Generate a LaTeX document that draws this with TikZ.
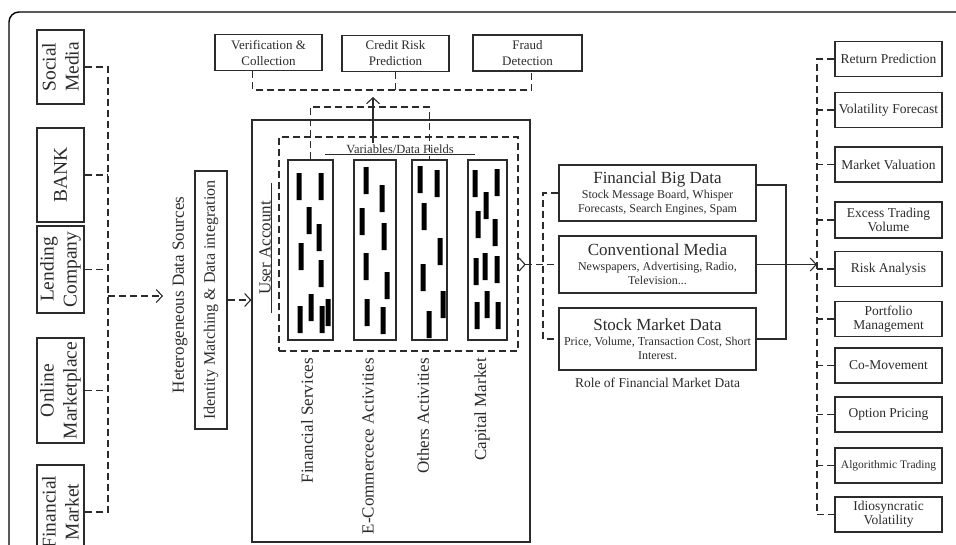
\documentclass[tikz,border=0pt]{standalone}
\usepackage{fontspec}
\setmainfont{Liberation Serif}
\usetikzlibrary{arrows.meta}
\definecolor{ink}{HTML}{2B2B2B}
\tikzset{
    src-box/.style = {draw=ink, line width=1.2pt, rotate=90, inner sep=1pt, minimum height=47pt, align=center, font=\fontsize{19.5}{23}\selectfont},
    top-box/.style = {draw=ink, line width=1.2pt, minimum width=107pt, minimum height=36pt, inner sep=1pt, align=center, font=\fontsize{13}{16}\selectfont},
    out-box/.style = {draw=ink, line width=1.2pt, minimum width=107pt, minimum height=35pt, inner sep=1pt, align=center, font=\fontsize{13.5}{14}\selectfont},
    data-box/.style = {draw=ink, line width=1.2pt, minimum width=197pt, inner sep=1pt, align=center, font=\fontsize{12}{14}\selectfont},
    col-box/.style = {draw=ink, line width=1.1pt, minimum height=180pt},
    side-label/.style = {rotate=90, inner sep=1pt, font=\fontsize{17}{19}\selectfont},
    dash-line/.style = {draw=ink, line width=1.1pt, dash pattern=on 7pt off 4pt},
    solid-line/.style = {draw=ink, line width=1.1pt},
    open-tip/.style = {-{Straight Barb[length=6pt,width=13pt]}},
}

\begin{document}
\begin{tikzpicture}[x=1pt, y=-1pt, ink]
\useasboundingbox (0,0) rectangle (956,544);
\clip (0,0) rectangle (956,544);
\draw[black, line width=1.4pt, rounded corners=10pt] (9,12) rectangle (990,590);

% data sources
\node[src-box, minimum width=74pt] (social) at (60.5,67) {Social\\Media};
\node[src-box, minimum width=94pt] (bank) at (60.5,175) {BANK};
\node[src-box, minimum width=87pt] (lending) at (60.5,269.5) {Lending\\Company};
\node[src-box, minimum width=105pt] (online) at (60.5,390.5) {Online\\Marketplace};
\node[src-box, minimum width=94pt] (finmkt) at (60.5,512) {Financial\\Market};

\coordinate (src-bus) at (108,296);
\coordinate (hetero-in) at (163,296);
\draw[dash-line] (social.south) -| (src-bus |- finmkt.south) -- (finmkt.south);
\draw[dash-line] (bank.south) -- (bank.south -| src-bus)
    (lending.south) -- (lending.south -| src-bus)
    (online.south) -- (online.south -| src-bus);
\draw[dash-line, open-tip] (src-bus) -- (hetero-in);

\node[side-label] (hetero) at (180,295) {Heterogeneous Data Sources};
\node[draw=ink, line width=1.2pt, rotate=90, minimum width=258pt, minimum height=32pt, inner sep=1pt, font=\fontsize{16}{18}\selectfont] (ident) at (211,300) {Identity Matching \& Data integration};

% user account
\node[draw=ink, line width=1.2pt, minimum width=278pt, minimum height=422pt] (account) at (391,331) {};
\draw[dash-line, open-tip] (ident.south) -- (account.west |- ident.south);
\node[dash-line, minimum width=239pt, minimum height=214pt] (fields) at (398.5,244) {};

\node[side-label, minimum width=130pt] (user) at (265,248) {User Account};
\draw[line width=0.9pt] (user.south west) -- (user.south east);
\node[inner sep=1pt, minimum width=149pt, font=\fontsize{12.5}{14}\selectfont] (vars) at (400,149) {Variables/Data Fields};
\draw[line width=0.9pt] (vars.south west) -- (vars.south east);

\node[col-box, minimum width=45pt] (fin-col) at (310.5,250) {};
\node[col-box, minimum width=42pt] (ecom-col) at (375,250) {};
\node[col-box, minimum width=35pt] (other-col) at (429.5,250) {};
\node[col-box, minimum width=39pt] (cap-col) at (487.5,250) {};

% data field bars
\fill[black] (296.5,173) rectangle ++(5,27) (318.5,173) rectangle ++(5,27)
    (306.5,207) rectangle ++(5,27) (316.5,224) rectangle ++(5,27)
    (298.5,243) rectangle ++(5,27) (318.5,260) rectangle ++(5,27)
    (308.5,294) rectangle ++(5,27) (297.5,306) rectangle ++(5,27)
    (319.5,306) rectangle ++(5,27) (325.5,299) rectangle ++(5,27);
\fill[black] (363.5,167) rectangle ++(5,27) (379.5,185) rectangle ++(5,27)
    (359.5,208) rectangle ++(5,27) (381.5,223) rectangle ++(5,27)
    (363.5,253) rectangle ++(5,27) (384.5,272) rectangle ++(5,27)
    (364.5,299) rectangle ++(5,27) (380.5,307) rectangle ++(5,27);
\fill[black] (417.5,166) rectangle ++(5,27) (434.5,170) rectangle ++(5,27)
    (421.5,203) rectangle ++(5,27) (437.5,238) rectangle ++(5,27)
    (420.5,264) rectangle ++(5,27) (440.5,291) rectangle ++(5,27)
    (426.5,311) rectangle ++(5,27);
\fill[black] (472.5,170) rectangle ++(5,27) (494.5,169) rectangle ++(5,27)
    (483.5,192) rectangle ++(5,27) (475.5,211) rectangle ++(5,27)
    (492.5,219) rectangle ++(5,27) (473.5,258) rectangle ++(5,27)
    (482.5,253) rectangle ++(5,27) (494.5,256) rectangle ++(5,27)
    (484.5,291) rectangle ++(5,27) (474.5,302) rectangle ++(5,27)
    (495.5,302) rectangle ++(5,27);

\node[side-label, anchor=east] (fin-lab) at (307,357) {Financial Services};
\node[side-label, anchor=east] (ecom-lab) at (368,357) {E-Commercece Activities};
\node[side-label, anchor=east] (other-lab) at (423,357) {Others Activities};
\node[side-label, anchor=east] (cap-lab) at (482,357) {Capital Market};

% applications on top
\node[top-box] (verif) at (268.5,52.5) {Verification \&\\Collection};
\node[top-box] (credit) at (395.5,53.5) {Credit Risk\\Prediction};
\node[top-box, minimum width=109pt] (fraud) at (527.5,53) {Fraud\\Detection};

\coordinate (top-bus) at (394,90);
\coordinate (up-tip) at (373,97);
\coordinate (fields-hub) at (373,107);
\draw[dash-line] ([xshift=-16pt]verif.south) |- (top-bus) -| ([xshift=4pt]fraud.south);
\draw[dash-line] (credit.south) -- (credit.south |- top-bus);
\draw[solid-line, open-tip] (vars.north -| up-tip) -- (up-tip);
\draw[dash-line] (fin-col.north) |- (fields-hub) -| (other-col.north);

% financial market data
\node[data-box, minimum height=56pt] (bigdata) at (657.5,193) {{\fontsize{17}{18}\selectfont Financial Big Data}\\[1pt]Stock Message Board, Whisper\\Forecasts, Search Engines, Spam};
\node[data-box, minimum height=57pt] (conv) at (657.5,264.5) {{\fontsize{17}{18}\selectfont Conventional Media}\\[1pt]Newspapers, Advertising, Radio,\\Television...};
\node[data-box, minimum height=62pt] (stockdata) at (657.5,339) {{\fontsize{17}{18}\selectfont Stock Market Data}\\[1pt]Price, Volume, Transaction Cost, Short\\Interest.};
\node[font=\fontsize{13.5}{15}\selectfont] (role) at (657.5,383) {Role of Financial Market Data};

\coordinate (data-in) at (543,264.5);
\coordinate (data-out) at (786,264.5);
\coordinate (app-bus) at (817,264.5);
\draw[dash-line] (bigdata.west) -| (data-in |- stockdata.west) -- (stockdata.west);
\draw[dash-line, {Straight Barb[reversed,length=6pt,width=13pt]}-] (fields.east |- conv.west) -- (conv.west);
\draw[solid-line] ([yshift=8pt]bigdata.east) -| (data-out |- stockdata.east) -- (stockdata.east);
\draw[solid-line, open-tip] (conv.east) -- (app-bus);

% applications on the right
\node[out-box] (ret) at (888.5,59) {Return Prediction};
\node[out-box] (volf) at (888.5,110) {Volatility Forecast};
\node[out-box] (mval) at (888.5,164.5) {Market Valuation};
\node[out-box, minimum height=36pt] (excess) at (888.5,220) {Excess Trading\\Volume};
\node[out-box] (risk) at (888.5,269) {Risk Analysis};
\node[out-box] (port) at (888.5,319) {Portfolio\\Management};
\node[out-box] (comov) at (888.5,365.5) {Co-Movement};
\node[out-box] (optp) at (888.5,414.5) {Option Pricing};
\node[out-box, font=\fontsize{11.5}{13}\selectfont] (algo) at (888.5,465.5) {Algorithmic Trading};
\node[out-box] (idio) at (888.5,514.5) {Idiosyncratic\\Volatility};

\draw[dash-line] (ret.west) -| (app-bus |- idio.west) -- (idio.west);
\draw[dash-line] (volf.west) -- (volf.west -| app-bus)
    (mval.west) -- (mval.west -| app-bus)
    (excess.west) -- (excess.west -| app-bus)
    (risk.west) -- (risk.west -| app-bus)
    (port.west) -- (port.west -| app-bus)
    (comov.west) -- (comov.west -| app-bus)
    (optp.west) -- (optp.west -| app-bus)
    (algo.west) -- (algo.west -| app-bus);
\end{tikzpicture}
\end{document}
